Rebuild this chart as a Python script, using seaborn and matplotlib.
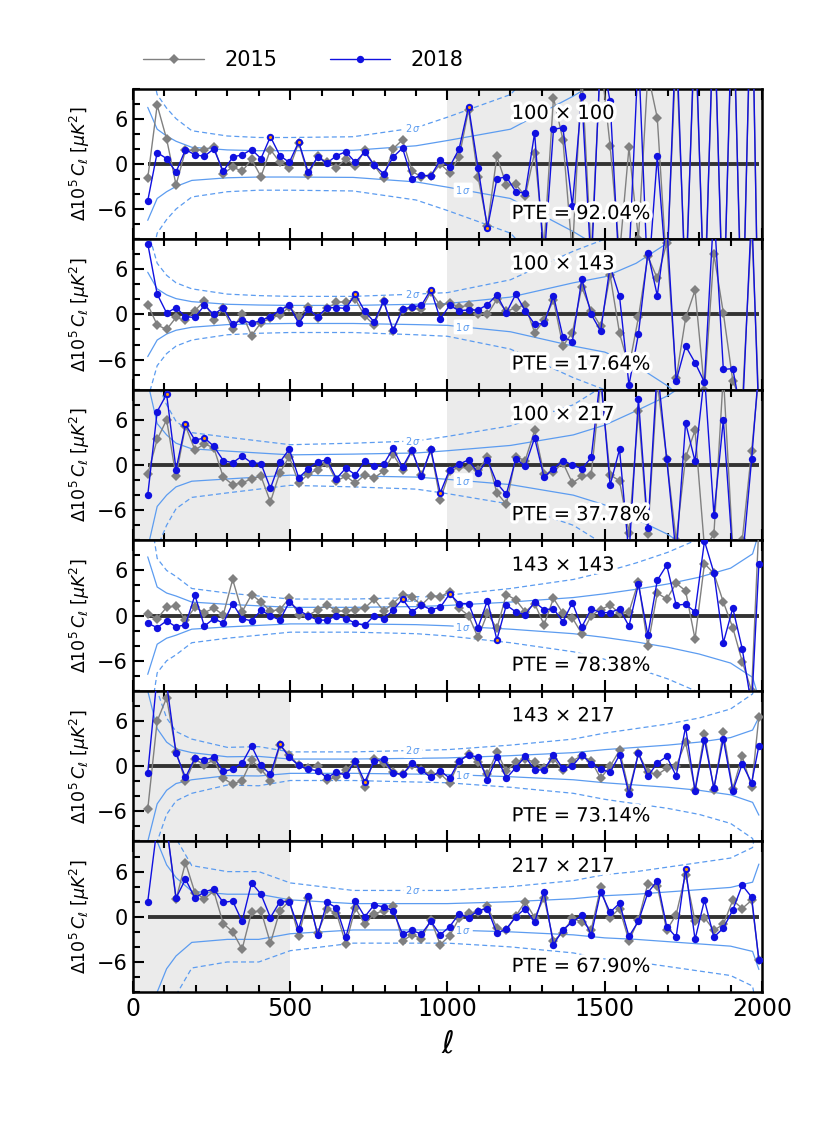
import numpy as np
import pandas as pd
import matplotlib
matplotlib.use("Agg")
import matplotlib.pyplot as plt
import matplotlib.patheffects as pe
from matplotlib.ticker import MultipleLocator
import seaborn as sns

# multipole bins (last bin is narrower)
ell = np.r_[np.arange(47, 1968, 30), 1990]

spectra = ['100 × 100', '100 × 143', '100 × 217', '143 × 143', '143 × 217', '217 × 217']
pte = ['PTE = 92.04%', 'PTE = 17.64%', 'PTE = 37.78%', 'PTE = 78.38%', 'PTE = 73.14%', 'PTE = 67.90%']

# residuals (2018 release)
d18_100x100 = [-4.9, 1.5, 0.7, -1.1, 1.9, 1.2, 1.0, 2.0, -1.0, 0.9,
               1.2, 1.9, 0.7, 3.6, 1.1, 0.2, 2.9, -1.1, 0.9, 0.1,
               1.1, 1.6, 0.2, 1.6, -0.2, -1.3, 0.9, 2.1, -2.0, -1.5,
               -1.6, 0.5, -0.4, 2.0, 7.6, -0.5, -8.5, -2.0, -1.7, -3.7,
               -3.9, 4.1, -13, 4.6, 4.8, -5.6, 9.0, -14, 15, 8.3,
               -15, -13, 15, -16, 1.0, -15, 18, -18, 20, -20,
               22, -22, 25, -25, 28, -28]
d18_100x143 = [9.4, 2.7, 0.2, 0.9, -0.3, -0.4, 1.2, 0.0, 0.9, -1.3,
               -0.7, -1.2, -0.8, -0.3, 0.6, 1.2, -1.2, 0.7, -0.3, 0.9,
               0.9, 0.8, 2.7, 0.4, -1.0, 1.8, -2.1, 0.7, 1.0, 1.2,
               3.3, -0.6, 1.2, 0.5, 0.6, 0.6, 1.3, 2.6, 0.2, 2.7,
               0.5, -1.3, -1.2, 2.5, -3.0, -3.6, 4.7, 0.0, -2.2, 6.4,
               2.4, -9.4, -2.6, 8.2, 2.5, 12, -8.8, -4.2, -6.4, -9.0,
               14, -7.3, -7.2, -14, 14, -14]
d18_100x217 = [-4.0, 7.1, 9.4, -0.6, 5.4, 3.3, 3.6, 2.5, 0.6, 0.3,
               1.2, 0.3, 0.2, -3.1, 0.4, 2.1, -1.7, -0.5, 0.4, 0.7,
               -1.8, -0.4, -1.3, 0.5, -0.1, 0.1, 2.2, -0.3, 2.0, -1.5,
               2.1, -3.7, -0.6, 0.1, 0.7, -1.1, 0.7, -2.4, -3.9, 0.8,
               -0.1, 3.6, -1.6, -0.5, 0.6, 0.0, -0.5, 1.0, 12, -2.7,
               2.1, -12, 8.8, -8.4, 13, 0.8, -12, 5.6, 0.5, 12,
               -6.6, 6.0, -12, -13, 0.8, 13]
d18_143x143 = [-1.0, -1.6, -0.7, -1.5, -1.2, 2.7, -1.4, -0.4, -1.0, 1.6,
               -0.4, -0.7, 0.7, 0.0, -0.6, 1.8, 0.7, 0.0, -0.6, -0.6,
               0.0, -0.4, -1.0, -1.3, 0.0, -0.4, 0.7, 2.2, 0.5, 1.4,
               0.8, 1.1, 2.9, 1.6, 1.6, -1.6, 2.0, -3.2, 1.4, 0.5,
               0.1, 1.8, 0.8, 0.9, -0.8, 1.7, -1.5, 0.9, 0.4, 0.4,
               0.9, -1.4, 4.2, -2.6, 4.7, 6.7, 1.4, 1.5, 0.5, 9.9,
               5.7, -3.6, 1.0, -4.4, -12, 6.9]
d18_143x217 = [-0.9, 12, 11, 1.7, -1.5, 1.1, 0.8, 1.2, -0.7, -0.4,
               0.4, 2.7, 0.1, -1.1, 2.9, 1.2, 0.1, -0.4, -0.6, -1.5,
               -0.8, -1.2, 0.7, -2.1, 0.7, 0.9, -0.9, -1.1, 0.4, -0.5,
               -1.5, -0.6, -1.6, 0.7, 1.5, 1.2, -1.8, 1.2, -1.6, -0.2,
               1.3, -0.5, -0.5, 1.5, -0.3, 0.0, 1.5, 0.3, -0.4, -0.8,
               1.5, -3.7, 1.7, -1.3, 0.4, 1.3, -1.3, 5.2, -3.3, 3.5,
               -2.9, 3.6, -3.3, 0.3, -2.2, 2.7]
d18_217x217 = [2.0, 12, 12, 2.5, 5.0, 2.5, 3.3, 3.7, 1.9, 2.1,
               -0.6, 4.5, 3.0, -0.1, 2.0, 2.0, -1.6, 2.8, -2.4, 1.9,
               1.2, -2.7, 2.1, 0.0, 1.6, 1.3, 0.8, -2.3, -1.8, -2.3,
               -0.6, -2.4, -1.3, 0.4, -0.1, 0.8, 1.1, -2.2, -1.6, 0.0,
               1.1, -0.7, 3.3, -3.7, -1.7, -0.7, 0.2, -2.4, 3.3, 0.6,
               1.8, -2.6, -0.6, 3.2, 4.8, -1.3, -2.7, 6.4, -3.0, 2.2,
               -2.7, -1.5, 0.9, 4.2, 2.6, -5.8]

# residuals (2015 release)
d15_100x100 = [-1.9, 7.8, 3.3, -2.8, 1.8, 1.8, 1.9, 2.3, -1.3, -0.4,
               -1.0, 0.6, -1.7, 1.9, 0.2, -0.6, 2.8, -1.5, 1.0, 0.2,
               -0.5, 0.7, -0.3, 1.8, -0.2, -1.9, 2.0, 3.2, -1.0, -1.7,
               -1.6, 0.0, -1.2, 0.9, 7.2, -1.7, -8.3, 1.0, -2.8, -2.7,
               -4.3, 1.5, -11, 8.8, 3.2, -12, 12, -12, 14, 2.4,
               -12, 2.2, -10, 12, 6.1, -14, 15, -16, 18, -18,
               20, -20, 22, -22, 25, -25]
d15_100x143 = [1.3, -1.4, -2.0, -0.4, -0.8, 0.5, 1.8, -0.8, 0.8, -2.0,
               0.1, -2.8, -1.1, -0.5, -0.1, 1.0, -0.3, 1.0, -0.5, 0.8,
               1.6, 1.7, 2.0, -0.2, -1.4, 1.8, -2.2, 0.6, 0.8, 0.7,
               3.0, 1.2, 1.5, 1.0, 1.2, 0.1, 0.0, 2.0, 0.4, 0.9,
               1.2, -2.4, -0.8, 1.9, -4.2, -2.4, 3.6, 0.5, -1.6, 5.2,
               -2.5, -7.0, -0.4, 7.7, 4.8, 9.5, -8.5, -0.5, 3.2, -10,
               8, 0.2, -8.8, -12, 12, -12]
d15_100x217 = [-1.2, 3.4, 6.0, -1.5, 5.2, 2.0, 2.8, 2.3, -1.6, -2.6,
               -2.4, -1.8, -1.5, -4.9, -1.0, 1.1, -2.4, -1.2, -0.6, 0.3,
               -2.1, -1.5, -2.4, -1.3, -1.7, -0.8, 1.4, -0.6, 1.9, -1.3,
               2.0, -4.6, -0.8, -0.3, -0.4, -0.6, 1.0, -3.7, -5.2, 1.1,
               0.6, 4.6, -1.2, -0.9, 0.3, -2.4, -1.5, -1.3, 11, -1.3,
               -2.1, -9, 7.2, -9.1, 11, 0.8, -10, 1.0, 4.6, -11,
               -9.2, 12, -11, -10, 1.9, 12]
d15_143x143 = [0.2, -0.4, 1.1, 1.3, -0.6, 1.1, 0.4, 1.0, 0.1, 4.8,
               0.5, 2.8, 1.8, 0.6, 0.8, 2.3, 0.1, 0.0, 0.8, 1.4,
               0.6, 0.6, 0.8, 1.0, 2.2, 0.6, 1.6, 2.8, 2.5, 1.4,
               2.6, 2.5, 3.2, 1.0, 0.0, -2.9, 0.3, -1.7, 2.8, 2.1,
               0.5, 1.6, -1.2, 2.3, 0.3, -0.3, -2.4, 0.0, 0.8, 1.4,
               0.3, 0.5, 4.5, -4.0, 3.0, 2.2, 4.3, 3.3, -3.1, 6.9,
               5.6, 1.8, -1.6, -6.1, -10, 12]
d15_143x217 = [-5.7, 6.0, 9.1, 1.9, -2.0, 0.9, 0.2, 0.8, -1.6, -2.4,
               -1.9, 0.8, -0.4, -1.9, 2.8, 1.5, 0.1, -0.3, 0.0, -1.8,
               -1.5, -0.5, 0.6, -2.7, 1.0, 0.4, -0.8, -1.1, 0.2, -0.5,
               -1.1, -1.0, -2.2, 0.6, 1.6, 0.5, -1.1, 1.9, -0.7, 0.6,
               1.0, 0.5, -0.3, 1.0, -0.5, 0.7, 1.4, 0.7, -1.6, 0.0,
               2.1, -3.2, 1.7, -0.8, -1.1, -0.3, 0.0, 3.2, -3.1, 4.3,
               -3.1, 4.5, -3.0, 1.3, -2.8, 6.6]
d15_217x217 = [12, 12, 12, 2.3, 7.2, 3.2, 2.4, 3.4, -0.9, -2.0,
               -4.3, 0.6, 0.8, -3.5, 0.8, 2.1, -2.5, 2.5, -2.2, 1.0,
               0.5, -3.6, 1.2, -1.0, 0.4, 0.8, 1.4, -3.2, -2.4, -2.9,
               -0.4, -3.7, -2.5, -0.2, 0.5, 0.6, 1.4, -1.5, -1.8, 0.1,
               2.0, -0.1, 2.5, -3.2, -2.1, -0.2, -0.7, -1.7, 3.9, -0.1,
               1.1, -3.2, -0.4, 4.4, 4.1, -1.8, 0.3, 5.6, -0.6, -0.1,
               -1.8, -1.0, 2.2, 1.1, 2.2, -5.7]

d18 = [d18_100x100, d18_100x143, d18_100x217, d18_143x143, d18_143x217, d18_217x217]
d15 = [d15_100x100, d15_100x143, d15_100x217, d15_143x143, d15_143x217, d15_217x217]

# 2018 points beyond 2 sigma (drawn with orange centre)
outliers = [[13, 16, 34, 36], [22, 30], [2, 4, 6, 31], [27, 32, 37], [14, 23], [57]]

# 1 sigma envelope
sig_ell = [47, 77, 107, 137, 187, 300, 400, 500, 700, 900, 1000,
           1200, 1400, 1500, 1600, 1700, 1800, 1900, 1970, 1990]
sig_100x100 = [7.5, 4.6, 3.7, 3.0, 2.2, 1.85, 1.75, 1.75, 1.8, 2.4, 3.1,
               4.6, 9, 11.5, 15, 18, 22, 26, 29, 30]
sig_100x143 = [5.6, 3.4, 2.6, 2.1, 1.7, 1.35, 1.25, 1.2, 1.2, 1.35, 1.45,
               2.3, 4.2, 5.0, 6.8, 9.5, 13, 16, 19, 20]
sig_100x217 = [11, 5.5, 4.0, 2.9, 2.15, 1.85, 1.6, 1.35, 1.45, 1.6, 1.9,
               2.6, 4.0, 5.3, 7.2, 9.2, 12, 15, 18, 20]
sig_143x143 = [7.8, 3.8, 3.0, 2.6, 1.8, 1.5, 1.3, 1.1, 1.1, 1.2, 1.35,
               1.8, 2.4, 2.9, 3.5, 4.2, 5.1, 6.3, 8.2, 11]
sig_143x217 = [10, 5.0, 3.2, 2.3, 1.8, 1.25, 1.3, 0.95, 0.95, 1.05, 1.1,
               1.4, 1.8, 2.2, 2.5, 2.8, 3.2, 3.8, 4.8, 6.5]
sig_217x217 = [14, 10, 6.9, 5.2, 3.4, 3.0, 3.0, 2.25, 1.75, 1.75, 1.75,
               2.0, 2.4, 2.8, 3.0, 3.3, 3.6, 3.9, 4.6, 7.0]
sigmas = [sig_100x100, sig_100x143, sig_100x217, sig_143x143, sig_143x217, sig_217x217]

# masked (unused) multipole ranges
masked = [[(1000, 2000)], [(1000, 2000)], [(0, 500), (1000, 2000)], [], [(0, 500)], [(0, 500)]]

rows = []
for p in range(6):
    for yr, vals in (('2015', d15[p]), ('2018', d18[p])):
        for l, v in zip(ell, vals):
            rows.append((p, l, yr, v))
df = pd.DataFrame(rows, columns=['panel', 'ell', 'year', 'val'])

sns.set_style("ticks")
plt.rcParams['font.family'] = ['DejaVu Sans']
plt.rcParams['mathtext.fontset'] = 'dejavusans'
plt.rcParams.update({'text.color': 'black', 'axes.labelcolor': 'black',
                     'xtick.color': 'black', 'ytick.color': 'black',
                     'axes.edgecolor': 'black'})

BLUE = '#1010e0'
GREY = '#808080'
SIGC = '#5c9cf0'

fig, axes = plt.subplots(6, 1, figsize=(8.31, 11.21), dpi=100, sharex=True)
fig.subplots_adjust(left=0.160, right=0.917, top=0.921, bottom=0.115, hspace=0)

halo = [pe.withStroke(linewidth=5, foreground='white')]

for p, ax in enumerate(axes):
    for lo, hi in masked[p]:
        ax.axvspan(lo, hi, color='#ebebeb', zorder=0, lw=0)

    s = np.array(sigmas[p])
    for k, ls in ((1, '-'), (2, (0, (4, 2.5)))):
        ax.plot(sig_ell, k * s, color=SIGC, lw=0.9, ls=ls, zorder=1)
        ax.plot(sig_ell, -k * s, color=SIGC, lw=0.9, ls=ls, zorder=1)
    ax.text(890, 2 * np.interp(890, sig_ell, s), r'$2\,\sigma$', color=SIGC,
            fontsize=7, ha='center', va='center', zorder=2,
            bbox=dict(boxstyle='round,pad=0.15', fc='white', ec='none'))
    ax.text(1050, -np.interp(1050, sig_ell, s), r'$1\,\sigma$', color=SIGC,
            fontsize=7, ha='center', va='center', zorder=2,
            bbox=dict(boxstyle='round,pad=0.15', fc='white', ec='none'))

    ax.hlines(0, ell[0], ell[-1], color='#333333', lw=2.8, zorder=2)

    sub = df[df['panel'] == p]
    sns.lineplot(data=sub, x='ell', y='val', hue='year', style='year',
                 hue_order=['2015', '2018'], style_order=['2015', '2018'],
                 markers={'2015': 'D', '2018': 'o'}, dashes=False,
                 palette={'2015': GREY, '2018': BLUE}, estimator=None,
                 markersize=5.3, markeredgewidth=0, linewidth=1.0,
                 legend=(p == 0), ax=ax, zorder=3)

    idx = outliers[p]
    ax.plot(ell[idx], np.array(d18[p])[idx], 'o', ms=2.2, mfc='#ff9900',
            mec='#ff9900', mew=0, zorder=4)

    ax.text(0.602, 0.835, spectra[p], transform=ax.transAxes, fontsize=14,
            ha='left', va='center', path_effects=halo, zorder=5)
    ax.text(0.602, 0.17, pte[p], transform=ax.transAxes, fontsize=14,
            ha='left', va='center', path_effects=halo, zorder=5)

    ax.set_xlim(0, 2000)
    ax.set_ylim(-10, 10)
    ax.set_yticks([-6, 0, 6])
    ax.set_yticklabels(['\u22126', '0', '6'])
    ax.yaxis.set_minor_locator(MultipleLocator(2))
    ax.xaxis.set_major_locator(MultipleLocator(500))
    ax.xaxis.set_minor_locator(MultipleLocator(100))
    ax.tick_params(which='both', direction='in', top=True, right=False, width=1.5)
    ax.tick_params(which='major', length=8, labelsize=15)
    ax.tick_params(which='minor', length=5)
    ax.tick_params(axis='x', which='major', labelsize=17)
    for sp in ax.spines.values():
        sp.set_linewidth(1.8)
    ax.set_ylabel(r'$\Delta 10^5\, C_\ell\ [\mu K^2]$', fontsize=12.5, labelpad=4)
    ax.set_xlabel('')

handles, labels = axes[0].get_legend_handles_labels()
axes[0].get_legend().remove()
fig.legend(handles, labels, loc='center left', bbox_to_anchor=(0.15, 0.9465),
           ncol=2, frameon=False, fontsize=15, handlelength=2.9,
           columnspacing=2.5, handletextpad=1.0)

axes[-1].set_xlabel(r'$\ell$', fontsize=22, labelpad=6)

plt.savefig('out.png', dpi=100)
print("Saved out.png")
